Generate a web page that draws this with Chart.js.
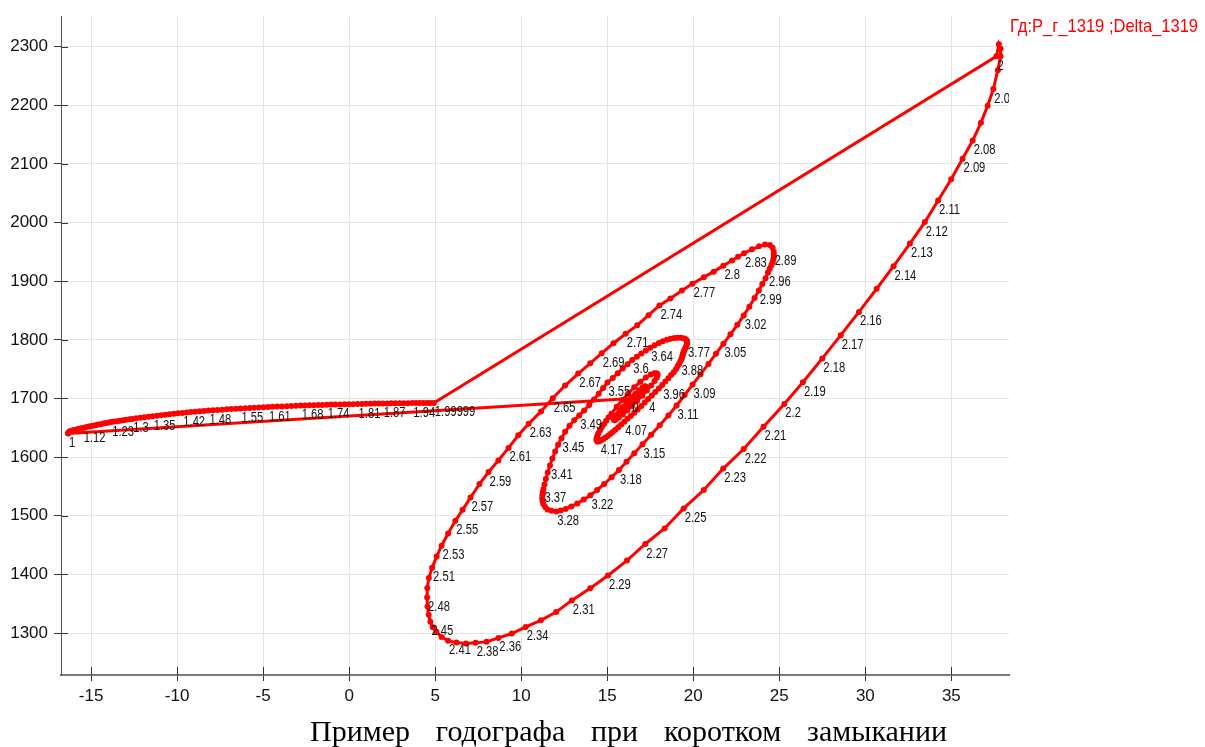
<!DOCTYPE html>
<html>
<head>
<meta charset="utf-8">
<title>Годограф</title>
<script src="https://cdn.jsdelivr.net/npm/chart.js@4.4.1/dist/chart.umd.min.js"></script>
<style>
  html, body { margin: 0; padding: 0; background: #fff; }
  canvas { display: block; }
</style>
</head>
<body>
<canvas id="hodograph-canvas" width="1205" height="747"></canvas>
<script>
// Гд: P_г_1319 (МВт) vs Delta_1319 (град), по времени t (с)
const seriesName = 'Гд:P_г_1319 ;Delta_1319';
const chartTitle = 'Пример годографа при коротком замыкании';

const xTickValues = [-15, -10, -5, 0, 5, 10, 15, 20, 25, 30, 35];
const yTickValues = [1300, 1400, 1500, 1600, 1700, 1800, 1900, 2000, 2100, 2200, 2300];

// доаварийный режим
const preTime = [0];
const preDelta = [16.39];
const prePower = [1700.0];

// короткое замыкание 1 .. 2 с
const faultTime = [
  1.00, 1.01, 1.02, 1.03, 1.04, 1.05, 1.06, 1.07, 1.08, 1.09,
  1.10, 1.11, 1.12, 1.13, 1.14, 1.15, 1.16, 1.17, 1.18, 1.19,
  1.20, 1.21, 1.22, 1.23, 1.24, 1.25, 1.26, 1.27, 1.28, 1.29,
  1.30, 1.31, 1.32, 1.33, 1.34, 1.35, 1.36, 1.37, 1.38, 1.39,
  1.40, 1.41, 1.42, 1.43, 1.44, 1.45, 1.46, 1.47, 1.48, 1.49,
  1.50, 1.51, 1.52, 1.53, 1.54, 1.55, 1.56, 1.57, 1.58, 1.59,
  1.60, 1.61, 1.62, 1.63, 1.64, 1.65, 1.66, 1.67, 1.68, 1.69,
  1.70, 1.71, 1.72, 1.73, 1.74, 1.75, 1.76, 1.77, 1.78, 1.79,
  1.80, 1.81, 1.82, 1.83, 1.84, 1.85, 1.86, 1.87, 1.88, 1.89,
  1.90, 1.91, 1.92, 1.93, 1.94, 1.95, 1.96, 1.97, 1.98, 1.99,
  1.99999
];
const faultDelta = [
  -16.34, -16.32, -16.31, -16.28, -16.24, -16.19, -16.12, -16.05, -15.96, -15.86,
  -15.75, -15.63, -15.49, -15.35, -15.20, -15.06, -14.90, -14.75, -14.60, -14.44,
  -14.28, -14.12, -13.98, -13.83, -13.66, -13.48, -13.31, -13.13, -12.96, -12.78,
  -12.61, -12.38, -12.14, -11.91, -11.66, -11.42, -11.17, -10.93, -10.68, -10.44,
  -10.19, -9.95, -9.70, -9.45, -9.20, -8.94, -8.69, -8.44, -8.18, -7.92,
  -7.66, -7.39, -7.12, -6.86, -6.59, -6.32, -6.05, -5.78, -5.52, -5.25,
  -4.98, -4.72, -4.45, -4.18, -3.91, -3.63, -3.36, -3.09, -2.82, -2.57,
  -2.31, -2.06, -1.80, -1.56, -1.31, -1.05, -0.80, -0.54, -0.27, -0.02,
  0.24, 0.49, 0.74, 0.98, 1.23, 1.47, 1.71, 1.95, 2.20, 2.44,
  2.68, 2.93, 3.17, 3.42, 3.67, 3.89, 4.11, 4.32, 4.52, 4.72,
  4.92
];
const faultPower = [
  1640.1, 1640.8, 1641.6, 1643.0, 1643.7, 1644.3, 1645.0, 1645.7, 1646.4, 1647.2,
  1647.9, 1648.8, 1649.6, 1650.6, 1651.6, 1652.5, 1653.5, 1654.4, 1655.4, 1656.2,
  1657.2, 1658.1, 1659.1, 1659.8, 1660.5, 1661.3, 1662.0, 1662.8, 1663.5, 1664.4,
  1665.0, 1666.1, 1667.1, 1668.1, 1669.0, 1669.8, 1670.7, 1671.5, 1672.4, 1673.2,
  1674.1, 1674.7, 1675.4, 1676.1, 1676.8, 1677.4, 1678.0, 1678.6, 1679.3, 1679.8,
  1680.3, 1680.8, 1681.4, 1681.9, 1682.4, 1682.9, 1683.2, 1683.7, 1684.1, 1684.6,
  1684.9, 1685.4, 1685.8, 1686.1, 1686.4, 1686.8, 1687.1, 1687.4, 1687.8, 1688.0,
  1688.3, 1688.5, 1688.8, 1689.0, 1689.3, 1689.5, 1689.7, 1689.8, 1690.0, 1690.2,
  1690.3, 1690.5, 1690.7, 1690.9, 1691.0, 1691.2, 1691.4, 1691.5, 1691.6, 1691.7,
  1691.9, 1691.9, 1692.0, 1692.0, 1692.2, 1692.2, 1692.2, 1692.4, 1692.4, 1692.4,
  1692.4
];

// после отключения КЗ
const postTime = [
  2.00, 2.01, 2.02, 2.03, 2.04, 2.05, 2.06, 2.07, 2.08, 2.09,
  2.10, 2.11, 2.12, 2.13, 2.14, 2.15, 2.16, 2.17, 2.18, 2.19,
  2.20, 2.21, 2.22, 2.23, 2.24, 2.25, 2.26, 2.27, 2.28, 2.29,
  2.30, 2.31, 2.32, 2.33, 2.34, 2.35, 2.36, 2.37, 2.38, 2.39,
  2.40, 2.41, 2.42, 2.43, 2.44, 2.45, 2.46, 2.47, 2.48, 2.49,
  2.50, 2.51, 2.52, 2.53, 2.54, 2.55, 2.56, 2.57, 2.58, 2.59,
  2.60, 2.61, 2.62, 2.63, 2.64, 2.65, 2.66, 2.67, 2.68, 2.69,
  2.70, 2.71, 2.72, 2.73, 2.74, 2.75, 2.76, 2.77, 2.78, 2.79,
  2.80, 2.81, 2.82, 2.83, 2.84, 2.85, 2.86, 2.87, 2.88, 2.89,
  2.90, 2.91, 2.92, 2.93, 2.94, 2.95, 2.96, 2.97, 2.98, 2.99,
  3.00, 3.01, 3.02, 3.03, 3.04, 3.05, 3.06, 3.07, 3.08, 3.09,
  3.10, 3.11, 3.12, 3.13, 3.14, 3.15, 3.16, 3.17, 3.18, 3.19,
  3.20, 3.21, 3.22, 3.23, 3.24, 3.25, 3.26, 3.27, 3.28, 3.29,
  3.30, 3.31, 3.32, 3.33, 3.34, 3.35, 3.36, 3.37, 3.38, 3.39,
  3.40, 3.41, 3.42, 3.43, 3.44, 3.45, 3.46, 3.47, 3.48, 3.49,
  3.50, 3.51, 3.52, 3.53, 3.54, 3.55, 3.56, 3.57, 3.58, 3.59,
  3.60, 3.61, 3.62, 3.63, 3.64, 3.65, 3.66, 3.67, 3.68, 3.69,
  3.70, 3.71, 3.72, 3.73, 3.74, 3.75, 3.76, 3.77, 3.78, 3.79,
  3.80, 3.81, 3.82, 3.83, 3.84, 3.85, 3.86, 3.87, 3.88, 3.89,
  3.90, 3.91, 3.92, 3.93, 3.94, 3.95, 3.96, 3.97, 3.98, 3.99,
  4.00, 4.01, 4.02, 4.03, 4.04, 4.05, 4.06, 4.07, 4.08, 4.09,
  4.10, 4.11, 4.12, 4.13, 4.14, 4.15, 4.16, 4.17, 4.18, 4.19,
  4.20, 4.21, 4.22, 4.23, 4.24, 4.25, 4.26, 4.27, 4.28, 4.29,
  4.30,
  4.32, 4.34, 4.36, 4.38, 4.40, 4.42, 4.44, 4.46, 4.48, 4.50,
  4.52, 4.54, 4.56, 4.58, 4.60, 4.62, 4.64, 4.66, 4.68, 4.70,
  4.72, 4.74, 4.76, 4.78, 4.80, 4.82, 4.84, 4.86, 4.88, 4.90,
  4.92, 4.94, 4.96, 4.98, 5.00, 5.02, 5.04, 5.06, 5.08, 5.10,
  5.12, 5.14, 5.16, 5.18, 5.20, 5.22, 5.24, 5.26, 5.28, 5.30,
  5.32, 5.34, 5.36, 5.38, 5.40, 5.42, 5.44, 5.46, 5.48, 5.50,
  5.52, 5.54, 5.56, 5.58, 5.60, 5.62, 5.64, 5.66, 5.68, 5.70,
  5.72, 5.74, 5.76, 5.78, 5.80, 5.82, 5.84, 5.86, 5.88, 5.90
];
const postDelta = [
  37.62, 37.76, 37.86, 37.86, 37.70, 37.44, 37.11, 36.72, 36.24, 35.65,
  34.99, 34.23, 33.46, 32.59, 31.64, 30.66, 29.63, 28.57, 27.50, 26.37,
  25.29, 24.08, 22.93, 21.74, 20.61, 19.44, 18.33, 17.21, 16.14, 15.04,
  14.01, 12.94, 12.03, 11.14, 10.26, 9.45, 8.67, 7.99, 7.35, 6.79,
  6.24, 5.75, 5.37, 5.07, 4.86, 4.72, 4.62, 4.55, 4.53, 4.54,
  4.63, 4.82, 5.08, 5.37, 5.75, 6.17, 6.59, 7.05, 7.57, 8.10,
  8.67, 9.26, 9.83, 10.43, 11.15, 11.83, 12.55, 13.31, 14.01, 14.68,
  15.36, 16.07, 16.74, 17.40, 18.03, 18.67, 19.34, 19.95, 20.61, 21.19,
  21.75, 22.25, 22.60, 22.95, 23.41, 23.82, 24.17, 24.45, 24.61, 24.67,
  24.68, 24.68, 24.65, 24.61, 24.54, 24.44, 24.34, 24.20, 24.01, 23.81,
  23.56, 23.26, 22.93, 22.56, 22.16, 21.75, 21.32, 20.88, 20.42, 19.96,
  19.50, 19.03, 18.55, 18.05, 17.55, 17.05, 16.57, 16.12, 15.68, 15.25,
  14.82, 14.41, 14.02, 13.63, 13.26, 12.91, 12.58, 12.29, 12.03, 11.75,
  11.53, 11.39, 11.29, 11.24, 11.22, 11.23, 11.25, 11.29, 11.35, 11.43,
  11.54, 11.67, 11.81, 11.97, 12.14, 12.34, 12.55, 12.80, 13.08, 13.37,
  13.66, 13.95, 14.23, 14.50, 14.76, 15.01, 15.32, 15.61, 15.90, 16.18,
  16.45, 16.72, 16.98, 17.24, 17.50, 17.75, 18.00, 18.23, 18.46, 18.68,
  18.90, 19.09, 19.27, 19.42, 19.54, 19.62, 19.64, 19.64, 19.62, 19.58,
  19.54, 19.50, 19.46, 19.42, 19.39, 19.37, 19.34, 19.30, 19.25, 19.18,
  19.09, 18.99, 18.86, 18.71, 18.55, 18.37, 18.19, 18.00, 17.79, 17.59,
  17.38, 17.18, 16.98, 16.77, 16.57, 16.37, 16.17, 15.99, 15.81, 15.64,
  15.47, 15.32, 15.17, 15.03, 14.90, 14.78, 14.66, 14.57, 14.48, 14.43,
  14.39, 14.37, 14.39, 14.43, 14.49, 14.58, 14.68, 14.80, 14.94, 15.08,
  15.24,
  15.55, 15.87, 16.22, 16.57, 16.92, 17.24, 17.52, 17.73, 17.88, 17.93,
  17.88, 17.75, 17.55, 17.30, 17.02, 16.73, 16.44, 16.16, 15.90, 15.68,
  15.52, 15.42, 15.39, 15.43, 15.54, 15.70, 15.90, 16.13, 16.38, 16.63,
  16.86, 17.05, 17.18, 17.24, 17.22, 17.14, 17.01, 16.83, 16.63, 16.42,
  16.23, 16.06, 15.94, 15.87, 15.86, 15.91, 16.00, 16.14, 16.29, 16.44,
  16.59, 16.70, 16.78, 16.80, 16.77, 16.70, 16.59, 16.48, 16.37, 16.27,
  16.20, 16.16, 16.17, 16.22, 16.29, 16.37, 16.44, 16.50, 16.53, 16.54,
  16.51, 16.46, 16.41, 16.36, 16.34, 16.34, 16.37, 16.41, 16.42, 16.42
];
const postPower = [
  2283.5, 2303.9, 2296.3, 2283.5, 2259.8, 2227.6, 2199.2, 2170.4, 2139.9, 2108.8,
  2073.7, 2037.6, 2000.8, 1964.1, 1925.6, 1887.1, 1847.6, 1808.0, 1768.3, 1727.6,
  1690.7, 1651.6, 1613.8, 1580.4, 1543.9, 1512.5, 1478.3, 1451.8, 1423.5, 1398.0,
  1376.5, 1355.6, 1335.8, 1321.7, 1310.3, 1299.1, 1291.7, 1284.9, 1283.2, 1282.2,
  1283.9, 1286.6, 1293.4, 1302.2, 1309.8, 1319.1, 1331.0, 1345.4, 1360.7, 1376.8,
  1393.8, 1411.1, 1430.3, 1448.9, 1469.8, 1491.3, 1510.0, 1530.9, 1554.1, 1574.5,
  1594.3, 1615.7, 1637.2, 1656.7, 1677.9, 1700.5, 1722.0, 1742.4, 1759.9, 1777.2,
  1794.1, 1810.3, 1824.7, 1842.0, 1858.6, 1870.5, 1884.0, 1895.6, 1906.9, 1916.3,
  1926.5, 1935.3, 1941.7, 1947.7, 1954.4, 1959.5, 1962.4, 1961.6, 1957.0, 1950.2,
  1946.0, 1941.7, 1937.5, 1932.4, 1927.3, 1921.4, 1914.6, 1905.2, 1895.1, 1884.0,
  1871.3, 1856.6, 1841.6, 1825.5, 1809.4, 1793.3, 1776.3, 1758.8, 1741.2, 1723.7,
  1705.9, 1688.1, 1671.1, 1654.2, 1638.1, 1621.9, 1606.7, 1591.9, 1577.8, 1565.6,
  1554.1, 1543.9, 1535.1, 1527.5, 1521.0, 1515.9, 1511.7, 1508.8, 1507.4, 1508.3,
  1510.8, 1515.1, 1519.7, 1524.7, 1529.8, 1534.9, 1540.2, 1545.6, 1553.2, 1562.6,
  1573.9, 1585.8, 1597.7, 1609.6, 1621.1, 1632.1, 1643.2, 1653.3, 1662.7, 1671.1,
  1679.6, 1689.0, 1698.3, 1708.0, 1717.8, 1727.1, 1735.1, 1743.2, 1750.9, 1758.5,
  1765.6, 1771.2, 1776.7, 1781.8, 1786.5, 1790.7, 1794.5, 1797.5, 1800.1, 1801.8,
  1803.0, 1803.5, 1803.5, 1802.6, 1801.3, 1799.2, 1796.7, 1793.8, 1791.1, 1788.5,
  1786.0, 1783.4, 1780.9, 1778.4, 1775.5, 1772.6, 1769.5, 1766.5, 1763.6, 1759.4,
  1754.8, 1750.0, 1744.9, 1739.8, 1734.4, 1728.8, 1722.9, 1716.9, 1711.0, 1705.1,
  1699.1, 1693.2, 1687.3, 1681.3, 1675.7, 1670.3, 1665.2, 1660.1, 1655.4, 1650.8,
  1646.5, 1642.6, 1639.3, 1636.0, 1633.3, 1630.9, 1629.1, 1627.5, 1626.7, 1626.7,
  1627.9, 1630.1, 1633.0, 1636.7, 1640.9, 1645.7, 1650.8, 1656.2, 1661.8, 1667.8,
  1673.9,
  1685.9, 1697.4, 1708.5, 1719.0, 1728.3, 1735.6, 1740.7, 1743.2, 1743.2, 1740.7,
  1735.9, 1729.7, 1722.0, 1713.6, 1704.7, 1695.7, 1687.3, 1679.6, 1672.8, 1667.8,
  1664.4, 1663.0, 1663.9, 1666.9, 1672.0, 1678.3, 1685.6, 1693.2, 1700.8, 1708.0,
  1714.1, 1718.6, 1720.7, 1720.3, 1717.8, 1713.6, 1708.5, 1702.9, 1696.9, 1691.5,
  1686.4, 1682.5, 1680.0, 1679.1, 1680.1, 1683.0, 1686.9, 1691.5, 1696.2, 1700.8,
  1704.7, 1707.6, 1709.1, 1709.0, 1707.3, 1704.6, 1701.3, 1697.9, 1694.9, 1692.5,
  1691.2, 1690.8, 1691.8, 1693.7, 1696.1, 1698.5, 1700.5, 1702.0, 1702.7, 1702.5,
  1701.3, 1699.8, 1698.3, 1697.3, 1696.9, 1697.6, 1698.6, 1699.6, 1700.1, 1700.0
];

// подписи времени, которые видны на графике
const shownTimeLabels = [
  '0', '1', '1.12', '1.23', '1.3', '1.35', '1.42', '1.48', '1.55', '1.61', '1.68', '1.74',
  '1.81', '1.87', '1.94', '1.99999', '2', '2.05', '2.08', '2.09', '2.11', '2.12', '2.13',
  '2.14', '2.16', '2.17', '2.18', '2.19', '2.2', '2.21', '2.22', '2.23', '2.25', '2.27',
  '2.29', '2.31', '2.34', '2.36', '2.38', '2.41', '2.45', '2.48', '2.51', '2.53', '2.55',
  '2.57', '2.59', '2.61', '2.63', '2.65', '2.67', '2.69', '2.71', '2.74', '2.77', '2.8',
  '2.83', '2.89', '2.96', '2.99', '3.02', '3.05', '3.09', '3.11', '3.15', '3.18', '3.22',
  '3.28', '3.37', '3.41', '3.45', '3.49', '3.55', '3.6', '3.64', '3.77', '3.88', '3.96',
  '4', '4.07', '4.17'
];

const timeS = preTime.concat(faultTime, postTime);
const deltaDeg = preDelta.concat(faultDelta, postDelta);
const powerMW = prePower.concat(faultPower, postPower);

// time labels next to points, narrow font like the original
const timeLabelPlugin = {
    id: 'timeLabels',
    afterDatasetsDraw(chart) {
        const ctx = chart.ctx;
        const area = chart.chartArea;
        const shown = new Set(shownTimeLabels);
        const pts = chart.getDatasetMeta(0).data;
        ctx.save();
        ctx.beginPath();
        ctx.rect(area.left, area.top, area.right - area.left, area.bottom - area.top);
        ctx.clip();
        ctx.fillStyle = '#111';
        ctx.font = '14px "Liberation Sans", Arial, sans-serif';
        ctx.textBaseline = 'alphabetic';
        pts.forEach((pt, i) => {
            const txt = String(timeS[i]);
            if (!shown.has(txt)) return;
            ctx.save();
            ctx.translate(pt.x + 1, pt.y + 13.5);
            ctx.scale(0.8, 1);
            ctx.fillText(txt, 0, 0);
            ctx.restore();
        });
        ctx.restore();
    }
};

// inner tick marks, series name and caption
const decorPlugin = {
    id: 'decor',
    afterDraw(chart) {
        const ctx = chart.ctx;
        const a = chart.chartArea;
        const xs = chart.scales.x;
        const ys = chart.scales.y;
        ctx.save();
        ctx.strokeStyle = '#333';
        ctx.lineWidth = 1;
        ctx.beginPath();
        for (const v of yTickValues) {
            const py = Math.round(ys.getPixelForValue(v)) + 0.5;
            ctx.moveTo(a.left, py);
            ctx.lineTo(a.left + 7, py);
        }
        for (const v of xTickValues) {
            const px = Math.round(xs.getPixelForValue(v)) + 0.5;
            ctx.moveTo(px, a.bottom);
            ctx.lineTo(px, a.bottom - 8);
        }
        ctx.stroke();

        ctx.save();
        ctx.fillStyle = '#ff0000';
        ctx.font = '19px "Liberation Sans", Arial, sans-serif';
        ctx.translate(a.right + 1, 32);
        ctx.scale(0.87, 1);
        ctx.fillText(seriesName, 0, 0);
        ctx.restore();

        // caption under the chart, words spread like the source
        ctx.fillStyle = '#000';
        ctx.font = '30px "Liberation Serif", "Times New Roman", serif';
        const words = chartTitle.split(' ');
        const widths = words.map(w => ctx.measureText(w).width);
        const total = widths.reduce((s, w) => s + w, 0);
        const gap = (637 - total) / (words.length - 1);
        let cx = 310;
        words.forEach((w, i) => {
            ctx.fillText(w, cx, 741);
            cx += widths[i] + gap;
        });
        ctx.restore();
    }
};

const points = timeS.map((t, i) => ({ x: deltaDeg[i], y: powerMW[i] }));

new Chart(document.getElementById('hodograph-canvas'), {
    type: 'scatter',
    data: {
        datasets: [{
            label: seriesName,
            data: points,
            showLine: true,
            borderColor: '#ff0000',
            backgroundColor: '#ff0000',
            borderWidth: 3,
            pointRadius: 3,
            pointBorderWidth: 0,
            pointHoverRadius: 0,
            tension: 0
        }]
    },
    options: {
        responsive: false,
        animation: false,
        devicePixelRatio: 1,
        events: [],
        layout: { padding: { left: 0, right: 196, top: 13, bottom: 0 } },
        plugins: {
            legend: { display: false },
            tooltip: { enabled: false },
            title: { display: false }
        },
        scales: {
            x: {
                type: 'linear',
                min: -16.75,
                max: 38.35,
                afterBuildTicks: s => { s.ticks = xTickValues.map(v => ({ value: v })); },
                afterFit: s => { s.height = 72; },
                grid: { color: '#e4e4e4', tickColor: '#333', tickLength: 6 },
                border: { color: '#7a7a7a', width: 2 },
                ticks: {
                    color: '#111',
                    padding: 5,
                    maxRotation: 0,
                    callback: v => String(v),
                    font: { family: '"Liberation Sans", Arial, sans-serif', size: 17 }
                }
            },
            y: {
                type: 'linear',
                min: 1228.4,
                max: 2351.9,
                afterBuildTicks: s => { s.ticks = yTickValues.map(v => ({ value: v })); },
                afterFit: s => { s.width = 61; },
                grid: { color: '#e4e4e4', tickColor: '#333', tickLength: 7 },
                border: { color: '#555', width: 1 },
                ticks: {
                    color: '#111',
                    padding: 6,
                    callback: v => String(v),
                    font: { family: '"Liberation Sans", Arial, sans-serif', size: 17 }
                }
            }
        }
    },
    plugins: [timeLabelPlugin, decorPlugin]
});
</script>
</body>
</html>
